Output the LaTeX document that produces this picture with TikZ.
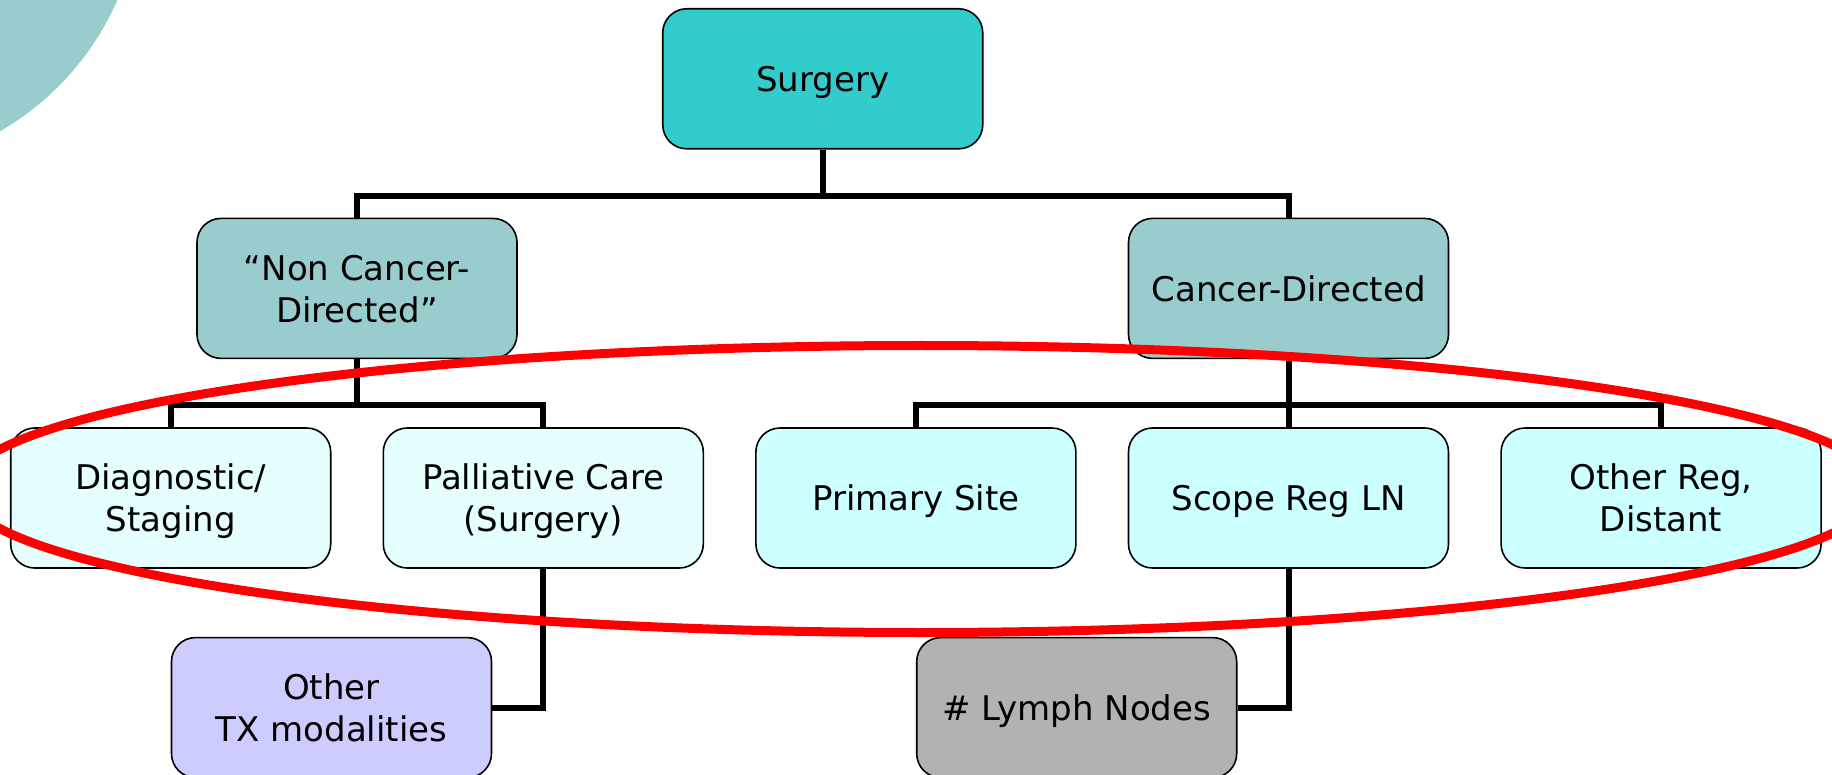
\documentclass[tikz,border=0pt]{standalone}
\usepackage{fontspec}
\setmainfont{DejaVu Sans}
\usetikzlibrary{positioning,calc}
\definecolor{deco}{HTML}{99CCCC}
\definecolor{root}{HTML}{33CCCC}
\definecolor{branch}{HTML}{99CCCC}
\definecolor{paleleaf}{HTML}{E5FFFF}
\definecolor{leaf}{HTML}{CCFFFF}
\definecolor{lilac}{HTML}{CCCCFF}
\definecolor{greybox}{HTML}{B2B2B2}

\begin{document}
\begin{tikzpicture}[x=0.5pt,y=-0.5pt,
    box/.style={draw,rounded corners=12pt,line width=0.8pt,minimum width=160pt,
      minimum height=70pt,align=center,inner sep=2pt,text depth=0pt,
      font=\fontsize{17}{21}\selectfont},
    link/.style={line width=3pt},
    ring/.style={draw=red,line width=4.5pt},
    node distance=34pt and 25.5pt]
  \useasboundingbox (0,0) rectangle (1832,775);
  \clip (0,0) rectangle (1832,775);
  \fill [deco] (-141,-113) circle [radius=282];
  % third row
  \node [box,fill=leaf] (scope) at (1288.5,498) {Scope Reg LN};
  \node [box,fill=leaf,left=of scope] (primary) {Primary Site};
  \node [box,fill=paleleaf,left=of primary] (palli) {Palliative Care\\(Surgery)};
  \node [box,fill=paleleaf,left=of palli] (diag) {Diagnostic/\\Staging};
  \node [box,fill=leaf,right=of scope] (otherreg) {Other Reg,\\Distant};
  % upper rows
  \coordinate (lmid) at ($(diag.north)!0.5!(palli.north)$);
  \node [box,fill=branch,above=of lmid] (noncancer) {“Non Cancer-\\Directed”};
  \node [box,fill=branch,above=of scope] (cancer) {Cancer-Directed};
  \coordinate (tmid) at ($(noncancer.north)!0.5!(cancer.north)$);
  \node [box,fill=root,above=of tmid] (surgery) {Surgery};
  % bottom row
  \node [box,fill=lilac,below left=34pt and 25.5pt of palli.south] (othertx) {Other\\TX modalities};
  \node [box,fill=greybox,below left=34pt and 25.5pt of scope.south] (lymph) {\# Lymph Nodes};
  % connectors
  \draw [link] (surgery.south) -- ++(0,46) -| (noncancer.north);
  \draw [link] (surgery.south) -- ++(0,46) -| (cancer.north);
  \draw [link] (noncancer.south) -- ++(0,46) -| (diag.north);
  \draw [link] (noncancer.south) -- ++(0,46) -| (palli.north);
  \draw [link] (cancer.south) -- ++(0,46) -| (primary.north);
  \draw [link] (cancer.south) -- (scope.north);
  \draw [link] (cancer.south) -- ++(0,46) -| (otherreg.north);
  \draw [link] (palli.south) |- (othertx.east);
  \draw [link] (scope.south) |- (lymph.east);
  \draw [ring] (921,489) ellipse [x radius=958, y radius=143.5];
\end{tikzpicture}
\end{document}
